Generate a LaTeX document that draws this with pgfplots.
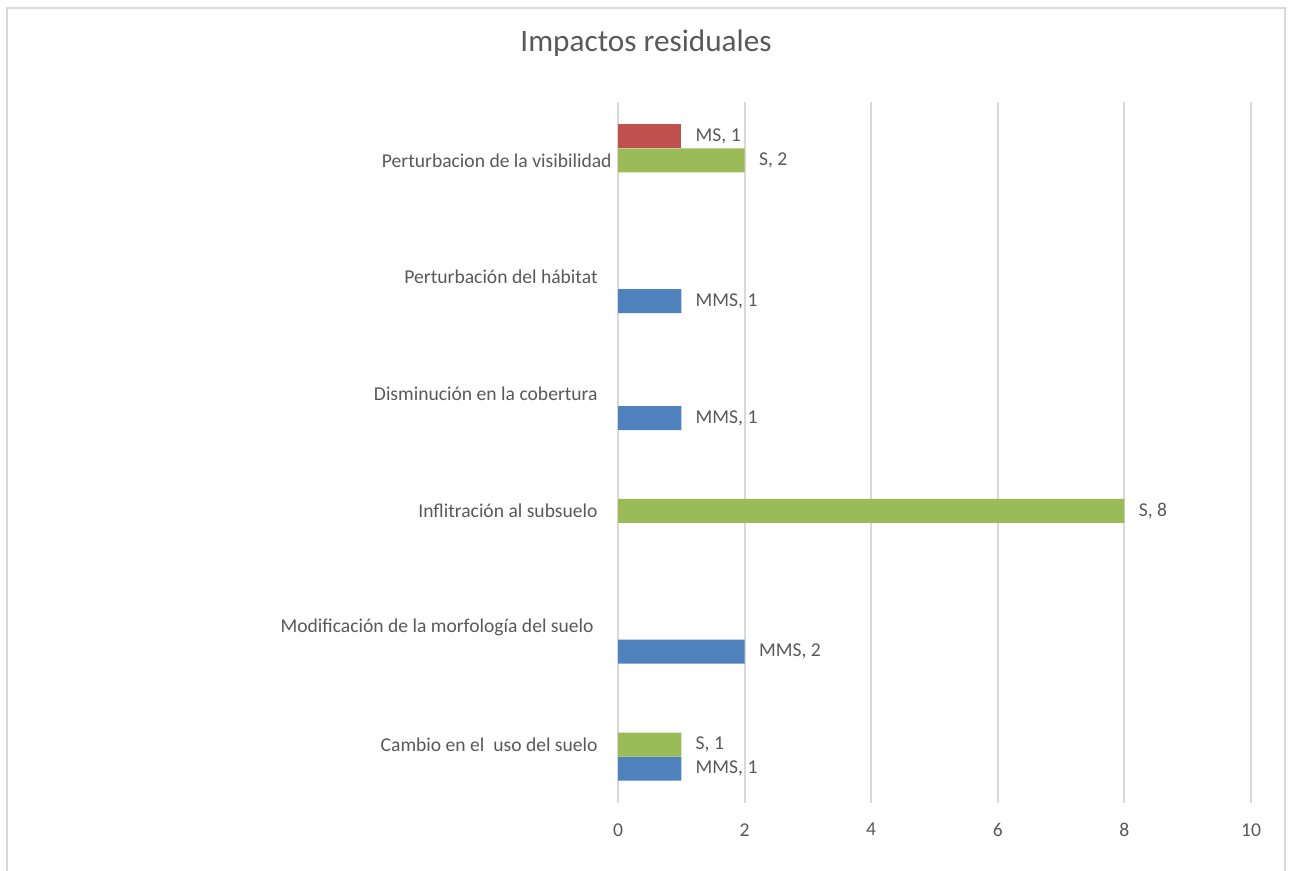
\documentclass[border=0pt]{standalone}
\usepackage{pgfplots}
\pgfplotsset{compat=1.18}
\usepackage{fontspec}
\setmainfont{Carlito}
\definecolor{mmsblue}{HTML}{4F81BD}
\definecolor{sgreen}{HTML}{9BBB59}
\definecolor{msred}{HTML}{C0504D}
\definecolor{gridgray}{HTML}{D9D9D9}
\definecolor{txtgray}{HTML}{595959}
\newcommand{\lblfont}{\fontsize{9.8}{11.8}\selectfont}
\begin{document}
\begin{tikzpicture}
\useasboundingbox (0,0) rectangle (645pt,435.5pt);
% chart frame
\draw[gridgray,line width=1pt] (3.5pt,-5pt) -- (3.5pt,431.5pt) -- (642.5pt,431.5pt) -- (642.5pt,-5pt);
\node[anchor=base,text=txtgray,font=\fontsize{15.6}{18}\selectfont,inner sep=0pt] at (323pt,409.5pt) {Impactos residuales};
\begin{axis}[
  at={(309pt,34pt)}, anchor=south west,
  width=316.5pt, height=350.5pt, scale only axis,
  xmin=0, xmax=10, ymin=-0.5, ymax=5.5,
  axis line style={draw=none},
  xtick={0,2,4,6,8,10},
  ytick={0,1,2,3,4,5},
  yticklabels={Cambio en el\ \ uso del suelo,
    Modificación de la morfología del suelo\kern2pt,
    Inflitración al subsuelo,
    Disminución en la cobertura,
    Perturbación del hábitat,
    Perturbacion de la visibilidad\kern-7pt},
  major tick length=0pt,
  xmajorgrids,
  grid style={gridgray,line width=1pt},
  tick label style={text=txtgray,font=\lblfont,inner sep=0pt},
  /pgf/number format/assume math mode=true,
  xticklabel style={anchor=north,yshift=-10pt},
  yticklabel style={anchor=east,xshift=-10pt},
  xbar,
  bar width=0.205,
  point meta=x,
  every node near coord/.append style={anchor=west,inner sep=0pt,xshift=7pt,text=txtgray,font=\lblfont},
]
% MMS
\addplot[draw=none,fill=mmsblue,bar shift=-0.205,
  nodes near coords={MMS, \pgfmathprintnumber{\pgfplotspointmeta}}]
  coordinates {(1,4) (1,3) (2,1) (1,0)};
% S
\addplot[draw=none,fill=sgreen,bar shift=0,
  nodes near coords={S, \pgfmathprintnumber{\pgfplotspointmeta}}]
  coordinates {(2,5) (8,2) (1,0)};
% MS
\addplot[draw=none,fill=msred,bar shift=0.205,
  nodes near coords={MS, \pgfmathprintnumber{\pgfplotspointmeta}}]
  coordinates {(1,5)};
\end{axis}
\end{tikzpicture}
\end{document}
